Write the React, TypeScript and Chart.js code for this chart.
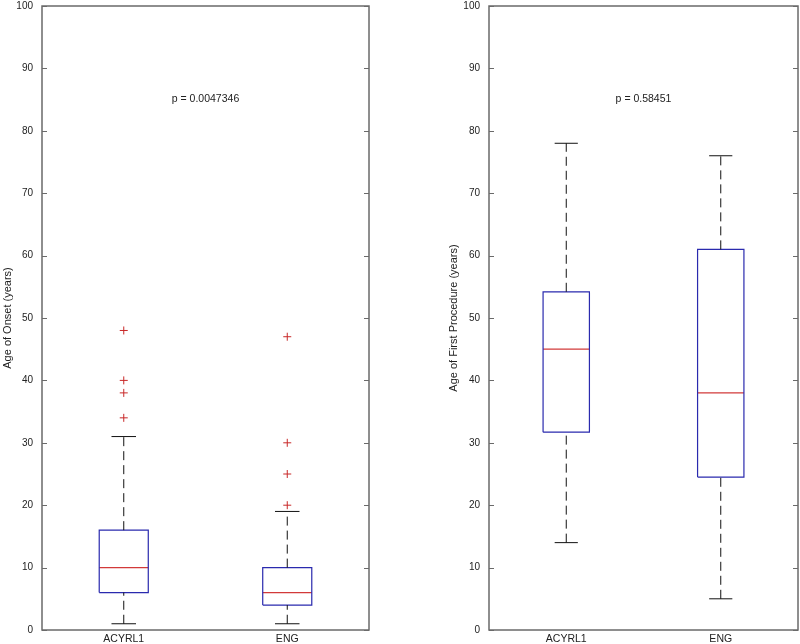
import React, { useEffect, useRef } from "react";
import { Chart, registerables } from "chart.js";

Chart.register(...registerables);

// ---- data ----
const CATEGORIES = ["ACYRL1", "ENG"];
const Y_TICKS = [0, 10, 20, 30, 40, 50, 60, 70, 80, 90, 100];

const ONSET_LOWER = [1, 1];
const ONSET_Q1 = [6, 4];
const ONSET_MEDIAN = [10, 6];
const ONSET_Q3 = [16, 10];
const ONSET_UPPER = [31, 19];
const ONSET_OUTLIERS = [
  [34, 38, 40, 48],
  [20, 25, 30, 47],
];
const ONSET_P_TEXT = "p = 0.0047346";
const ONSET_P_Y = 85;

const PROC_LOWER = [14, 5];
const PROC_Q1 = [31.7, 24.5];
const PROC_MEDIAN = [45, 38];
const PROC_Q3 = [54.2, 61];
const PROC_UPPER = [78, 76];
const PROC_OUTLIERS: number[][] = [[], []];
const PROC_P_TEXT = "p = 0.58451";
const PROC_P_Y = 85;

// ---- styles ----
const BOX_COLOR = "#2a2aae";
const MED_COLOR = "#d23a3a";
const WHISKER_COLOR = "#111111";
const OUTLIER_COLOR = "#c82828";
const AXIS_COLOR = "#6a6a6a";
const TEXT_COLOR = "#222222";
const FONT = "'Liberation Sans', Arial, sans-serif";
const BOX_HALF = 0.15;
const CAP_HALF = 0.075;

type BoxData = {
  lower: number[];
  q1: number[];
  median: number[];
  q3: number[];
  upper: number[];
  outliers: number[][];
};

function buildDatasets(d: BoxData) {
  const sets: any[] = [];
  const line = (data: any[], color: string, dash: number[] = [], width = 1) => ({
    data,
    showLine: true,
    borderColor: color,
    backgroundColor: color,
    borderWidth: width,
    borderDash: dash,
    pointRadius: 0,
    pointHoverRadius: 0,
    fill: false,
    tension: 0,
  });
  CATEGORIES.forEach((_, i) => {
    const x = i + 1;
    sets.push(line([{ x, y: d.q3[i] }, { x, y: d.upper[i] }], WHISKER_COLOR, [9, 5]));
    sets.push(line([{ x, y: d.lower[i] }, { x, y: d.q1[i] }], WHISKER_COLOR, [9, 5]));
    sets.push(line([{ x: x - CAP_HALF, y: d.upper[i] }, { x: x + CAP_HALF, y: d.upper[i] }], WHISKER_COLOR));
    sets.push(line([{ x: x - CAP_HALF, y: d.lower[i] }, { x: x + CAP_HALF, y: d.lower[i] }], WHISKER_COLOR));
    sets.push(
      line(
        [
          { x: x - BOX_HALF, y: d.q1[i] },
          { x: x + BOX_HALF, y: d.q1[i] },
          { x: x + BOX_HALF, y: d.q3[i] },
          { x: x - BOX_HALF, y: d.q3[i] },
          { x: x - BOX_HALF, y: d.q1[i] },
        ],
        BOX_COLOR,
        [],
        1.2
      )
    );
    sets.push(line([{ x: x - BOX_HALF, y: d.median[i] }, { x: x + BOX_HALF, y: d.median[i] }], MED_COLOR, [], 1.2));
    if (d.outliers[i].length) {
      sets.push({
        data: d.outliers[i].map((y) => ({ x, y })),
        showLine: false,
        pointStyle: "cross",
        pointRadius: 4,
        pointHoverRadius: 4,
        borderColor: OUTLIER_COLOR,
        backgroundColor: OUTLIER_COLOR,
        borderWidth: 1,
      });
    }
  });
  return sets;
}

const framePlugin = {
  id: "matlabFrame",
  afterDatasetsDraw(chart: any, _args: any, opts: any) {
    const { ctx, chartArea } = chart;
    const ys = chart.scales.y;
    const xs = chart.scales.x;
    ctx.save();
    ctx.strokeStyle = AXIS_COLOR;
    ctx.lineWidth = 1.5;
    ctx.strokeRect(chartArea.left, chartArea.top, chartArea.right - chartArea.left, chartArea.bottom - chartArea.top);
    ctx.lineWidth = 1;
    Y_TICKS.forEach((v) => {
      const py = Math.round(ys.getPixelForValue(v)) + 0.5;
      ctx.beginPath();
      ctx.moveTo(chartArea.left, py);
      ctx.lineTo(chartArea.left + 5, py);
      ctx.moveTo(chartArea.right, py);
      ctx.lineTo(chartArea.right - 5, py);
      ctx.stroke();
    });
    ctx.fillStyle = TEXT_COLOR;
    ctx.font = `10.5px ${FONT}`;
    ctx.textAlign = "center";
    ctx.textBaseline = "middle";
    ctx.fillText(opts.text, xs.getPixelForValue(1.5), ys.getPixelForValue(opts.y));
    ctx.restore();
  },
};

function BoxChart(props: {
  data: BoxData;
  title: string;
  pText: string;
  pY: number;
  padLeft: number;
  padRight: number;
  yWidth: number;
}) {
  const ref = useRef<HTMLCanvasElement | null>(null);
  useEffect(() => {
    if (!ref.current) return;
    const chart = new Chart(ref.current, {
      type: "scatter",
      data: { datasets: buildDatasets(props.data) },
      plugins: [framePlugin],
      options: {
        animation: false,
        responsive: false,
        events: [],
        layout: { padding: { left: props.padLeft, right: props.padRight, top: 6, bottom: 0 } },
        plugins: {
          legend: { display: false },
          tooltip: { enabled: false },
          matlabFrame: { text: props.pText, y: props.pY },
        } as any,
        scales: {
          x: {
            type: "linear",
            min: 0.5,
            max: 2.5,
            grid: { display: false, drawTicks: false },
            border: { display: false },
            afterBuildTicks: (s: any) => {
              s.ticks = CATEGORIES.map((_, i) => ({ value: i + 1 }));
            },
            afterFit: (s: any) => {
              s.height = 14;
              s.paddingLeft = 0;
              s.paddingRight = 0;
            },
            ticks: {
              padding: 3,
              color: TEXT_COLOR,
              font: { family: FONT, size: 10.5 },
              maxRotation: 0,
              autoSkip: false,
              callback: (v: any) => CATEGORIES[Math.round(Number(v)) - 1] ?? "",
            },
          },
          y: {
            type: "linear",
            min: 0,
            max: 100,
            grid: { display: false, drawTicks: false },
            border: { display: false },
            afterBuildTicks: (s: any) => {
              s.ticks = Y_TICKS.map((v) => ({ value: v }));
            },
            afterFit: (s: any) => {
              s.width = props.yWidth;
              s.paddingTop = 0;
              s.paddingBottom = 0;
            },
            ticks: {
              padding: 9,
              color: TEXT_COLOR,
              font: { family: FONT, size: 10 },
            },
            title: {
              display: true,
              text: props.title,
              color: TEXT_COLOR,
              font: { family: FONT, size: 11 },
              padding: { top: 1, bottom: 0 },
            },
          },
        },
      },
    });
    return () => chart.destroy();
  }, []);
  return <canvas ref={ref} width={400} height={644} style={{ width: 400, height: 644, display: "block" }} />;
}

export default function App() {
  const onset: BoxData = {
    lower: ONSET_LOWER,
    q1: ONSET_Q1,
    median: ONSET_MEDIAN,
    q3: ONSET_Q3,
    upper: ONSET_UPPER,
    outliers: ONSET_OUTLIERS,
  };
  const proc: BoxData = {
    lower: PROC_LOWER,
    q1: PROC_Q1,
    median: PROC_MEDIAN,
    q3: PROC_Q3,
    upper: PROC_UPPER,
    outliers: PROC_OUTLIERS,
  };
  return (
    <div style={{ position: "fixed", left: 0, top: 0, width: 800, height: 644, background: "#fff" }}>
      <div style={{ position: "absolute", left: 0, top: 0 }}>
        <BoxChart data={onset} title="Age of Onset (years)" pText={ONSET_P_TEXT} pY={ONSET_P_Y} padLeft={0} padRight={31} yWidth={42} />
      </div>
      <div style={{ position: "absolute", left: 400, top: 0 }}>
        <BoxChart
          data={proc}
          title="Age of First Procedure (years)"
          pText={PROC_P_TEXT}
          pY={PROC_P_Y}
          padLeft={46}
          padRight={2}
          yWidth={43}
        />
      </div>
    </div>
  );
}
